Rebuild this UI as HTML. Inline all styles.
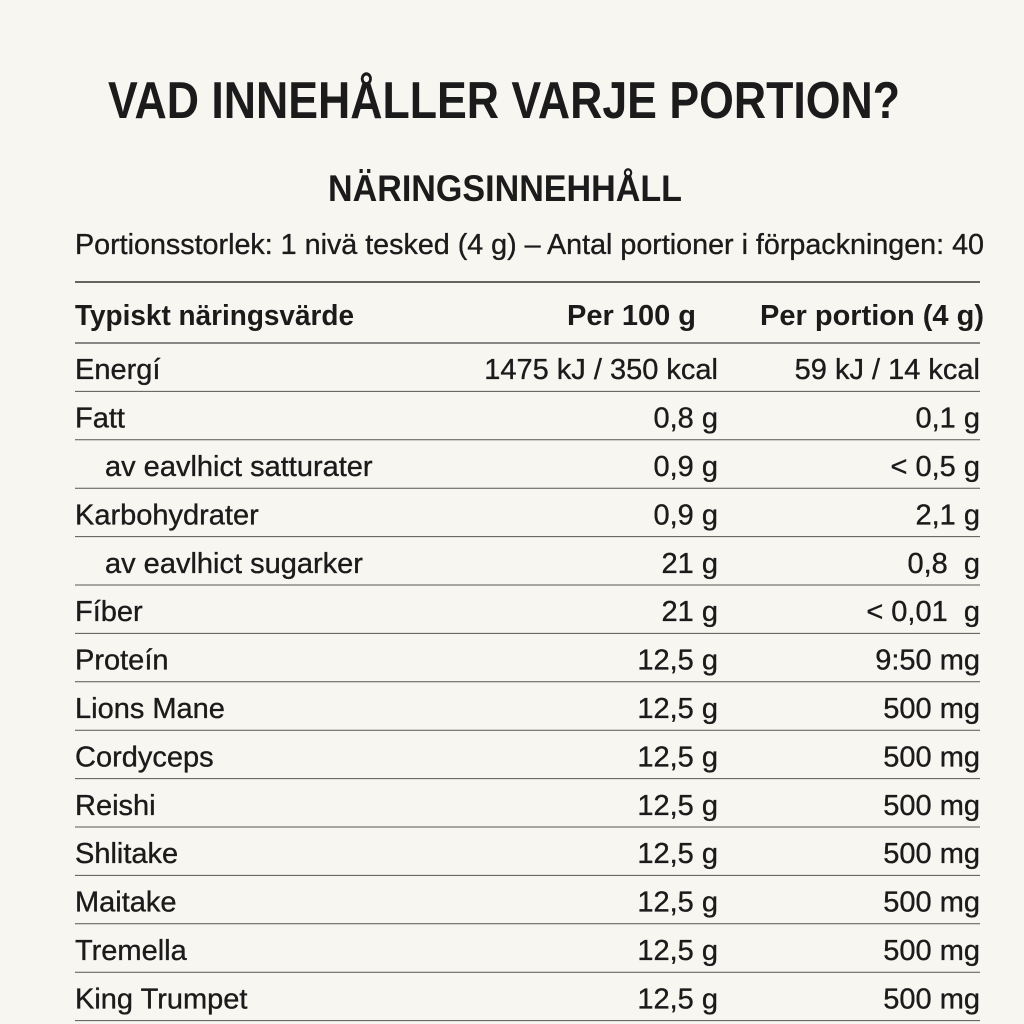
<!DOCTYPE html>
<html><head><meta charset="utf-8"><style>
html,body{margin:0;padding:0;background:#f8f6f1;}
svg{display:block;}
text{font-family:"Liberation Sans",sans-serif;fill:#1b1b1b;}
.r{stroke:#1b1b1b;stroke-width:0.35;}
</style></head><body>
<svg width="1024" height="1024" viewBox="0 0 1024 1024">
<rect width="1024" height="1024" fill="#f8f6f1"/>
<text x="108" y="118" font-size="52" font-weight="bold" textLength="792" lengthAdjust="spacingAndGlyphs" fill="#1e2530">VAD INNEHÅLLER VARJE PORTION?</text>
<text x="328" y="201" font-size="37" font-weight="bold" textLength="354" lengthAdjust="spacingAndGlyphs">NÄRINGSINNEHHÅLL</text>
<text class="r" x="75" y="254" font-size="29" textLength="909" lengthAdjust="spacingAndGlyphs">Portionsstorlek: 1 nivä tesked (4 g) – Antal portioner i förpackningen: 40</text>
<line x1="75" y1="282" x2="980" y2="282" stroke="#333" stroke-width="1.5"/>
<text x="75" y="325" font-size="29" font-weight="bold" textLength="279" lengthAdjust="spacingAndGlyphs">Typiskt näringsvärde</text>
<text x="696" y="325" font-size="29" font-weight="bold" text-anchor="end">Per 100 g</text>
<text x="984" y="325" font-size="29" font-weight="bold" text-anchor="end">Per portion (4 g)</text>
<g id="rows"></g>
</svg>
<script>
const labels=["Energí","Fatt","av eavlhict satturater","Karbohydrater","av eavlhict sugarker","Fíber","Proteín","Lions Mane","Cordyceps","Reishi","Shlitake","Maitake","Tremella","King Trumpet"];
const per100=["1475 kJ / 350 kcal","0,8 g","0,9 g","0,9 g","21 g","21 g","12,5 g","12,5 g","12,5 g","12,5 g","12,5 g","12,5 g","12,5 g","12,5 g"];
const perPortion=["59 kJ / 14 kcal","0,1 g","< 0,5 g","2,1 g","0,8  g","< 0,01  g","9:50 mg","500 mg","500 mg","500 mg","500 mg","500 mg","500 mg","500 mg"];
const indent=[0,0,1,0,1,0,0,0,0,0,0,0,0,0];
const NS="http://www.w3.org/2000/svg";
const g=document.getElementById('rows');
function mk(tag,attrs){const e=document.createElementNS(NS,tag);for(const k in attrs)e.setAttribute(k,attrs[k]);return e;}
const top0=343,rowH=48.4;
const l0=mk('line',{x1:75,y1:top0,x2:980,y2:top0,stroke:'#444','stroke-width':1.2});


g.appendChild(l0);
labels.forEach((lab,i)=>{
  const y=top0+rowH*(i+0.5)+12;
  const t=mk('text',{x:indent[i]?105:75,y:y,'font-size':29,'class':'r'});t.textContent=lab;
  
  
  g.appendChild(t);
  const a=mk('text',{x:718,y:y,'font-size':29,'text-anchor':'end','class':'r'});a.style.whiteSpace='pre';a.textContent=per100[i];
  
  
  g.appendChild(a);
  const b=mk('text',{x:980,y:y,'font-size':29,'text-anchor':'end','class':'r'});b.style.whiteSpace='pre';b.textContent=perPortion[i];
  
  
  g.appendChild(b);
  const ly=top0+rowH*(i+1);
  const l=mk('line',{x1:75,y1:ly,x2:980,y2:ly,stroke:'#555','stroke-width':1});
  
  
  g.appendChild(l);
});
</script>
</body></html>
